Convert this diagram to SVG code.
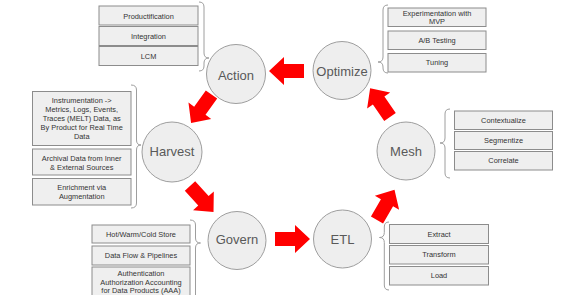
<svg xmlns="http://www.w3.org/2000/svg" xmlns:xlink="http://www.w3.org/1999/xlink" width="585" height="295" viewBox="0 0 585 295">
<style>
.c{fill:#eeeeee;stroke:#9e9e9e;stroke-width:1}
.ct{font-family:"Liberation Sans",Arial,sans-serif;font-size:13px;fill:#595959;text-anchor:middle}
.b{fill:#efefef;stroke:#8c8c8c;stroke-width:1}
.bt{font-family:"Liberation Sans",Arial,sans-serif;font-size:7.4px;fill:#333333;text-anchor:middle}
.br{fill:none;stroke:#9e9e9e;stroke-width:1}
.a{fill:#ff0000}
</style>
<defs>
<path id="arw" d="M0,-7 H20 V-14 L35,0 L20,14 V7 H0 Z"/>
</defs>
<rect width="585" height="295" fill="#ffffff"/>
<g id="connectors">
<use xlink:href="#arw" class="a" transform="translate(304,71) rotate(180)"/>
<use xlink:href="#arw" class="a" transform="translate(211.5,94.5) rotate(125.7)"/>
<use xlink:href="#arw" class="a" transform="translate(190,186) rotate(47.8)"/>
<use xlink:href="#arw" class="a" transform="translate(275,239)"/>
<use xlink:href="#arw" class="a" transform="translate(377,220) rotate(-60)"/>
<use xlink:href="#arw" class="a" transform="translate(390,117) rotate(-124.6)"/>
</g>
<g id="action">
<circle class="c" cx="236" cy="74" r="29.5"/>
<text class="ct" x="236" y="79.5">Action</text>
<path class="br" d="M199,2 Q204,2 204,7 L204,53 Q204,58 209,58 Q204,58 204,63 L204,66 Q204,71 199,71"/>
<rect class="b" x="99" y="6" width="99" height="19"/>
<text class="bt" x="148.5" y="18.6">Productification</text>
<rect class="b" x="99" y="26.5" width="99" height="19"/>
<text class="bt" x="148.5" y="38.6">Integration</text>
<rect class="b" x="99" y="46.5" width="99" height="19"/>
<text class="bt" x="148.5" y="58.6">LCM</text>
</g>
<g id="optimize">
<circle class="c" cx="342" cy="70.5" r="29"/>
<text class="ct" x="342" y="76">Optimize</text>
<path class="br" d="M388,5 Q383,5 383,10 L383,57 Q383,62 378,62 Q383,62 383,67 L383,68 Q383,73 388,73"/>
<rect class="b" x="388" y="8" width="98" height="18.5"/>
<text class="bt" x="437" y="16.2">Experimentation with</text>
<text class="bt" x="437" y="24.2">MVP</text>
<rect class="b" x="388" y="31" width="98" height="18.5"/>
<text class="bt" x="437" y="42.8">A/B Testing</text>
<rect class="b" x="388" y="53.5" width="98" height="18.5"/>
<text class="bt" x="437" y="65.2">Tuning</text>
</g>
<g id="harvest">
<circle class="c" cx="172" cy="152" r="30"/>
<text class="ct" x="172" y="156">Harvest</text>
<path class="br" d="M131,85 Q136.5,85 136.5,90 L136.5,140 Q136.5,145 141,145 Q136.5,145 136.5,150 L136.5,203 Q136.5,208 131,208"/>
<rect class="b" x="32.5" y="91.5" width="98.5" height="54"/>
<text class="bt" x="81.7" y="103.3">Instrumentation -&gt;</text>
<text class="bt" x="81.7" y="112.2">Metrics, Logs, Events,</text>
<text class="bt" x="81.7" y="121.1">Traces (MELT) Data, as</text>
<text class="bt" x="81.7" y="130">By Product for Real Time</text>
<text class="bt" x="81.7" y="139">Data</text>
<rect class="b" x="32.5" y="149" width="98.5" height="26"/>
<text class="bt" x="81.7" y="160.9">Archival Data from Inner</text>
<text class="bt" x="81.7" y="169.9">&amp; External Sources</text>
<rect class="b" x="32.5" y="178.5" width="98.5" height="26.5"/>
<text class="bt" x="81.7" y="189.9">Enrichment via</text>
<text class="bt" x="81.7" y="199.2">Augmentation</text>
</g>
<g id="mesh">
<circle class="c" cx="406" cy="151" r="29"/>
<text class="ct" x="406" y="156">Mesh</text>
<path class="br" d="M450,109 Q445,109 445,114 L445,138 Q445,143 440,143 Q445,143 445,148 L445,173 Q445,178 450,178"/>
<rect class="b" x="454.5" y="111" width="98" height="18.5"/>
<text class="bt" x="503.5" y="122.8">Contextualize</text>
<rect class="b" x="454.5" y="131.5" width="98" height="18"/>
<text class="bt" x="503.5" y="143.1">Segmentize</text>
<rect class="b" x="454.5" y="151.5" width="98" height="18.5"/>
<text class="bt" x="503.5" y="163.4">Correlate</text>
</g>
<g id="govern">
<circle class="c" cx="237" cy="240.5" r="29"/>
<text class="ct" x="237" y="244">Govern</text>
<path class="br" d="M190,220 Q195.5,220 195.5,225 L195.5,238 Q195.5,243 200.5,243 Q195.5,243 195.5,248 L195.5,300"/>
<rect class="b" x="92" y="225" width="98" height="18"/>
<text class="bt" x="141" y="236.6">Hot/Warm/Cold Store</text>
<rect class="b" x="92" y="246" width="98" height="19"/>
<text class="bt" x="141" y="258.1">Data Flow &amp; Pipelines</text>
<rect class="b" x="92" y="267" width="98" height="31"/>
<text class="bt" x="141" y="276.1">Authentication</text>
<text class="bt" x="141" y="284.6">Authorization Accounting</text>
<text class="bt" x="141" y="293.1">for Data Products (AAA)</text>
</g>
<g id="etl">
<circle class="c" cx="342.5" cy="239" r="29"/>
<text class="ct" x="342.5" y="244">ETL</text>
<path class="br" d="M389,222 Q384.3,222 384.3,227 L384.3,232.5 Q384.3,237.5 379.5,237.5 Q384.3,237.5 384.3,242.5 L384.3,285 Q384.3,290 389,290"/>
<rect class="b" x="389.5" y="224.5" width="99" height="19"/>
<text class="bt" x="439" y="236.6">Extract</text>
<rect class="b" x="389.5" y="245.5" width="99" height="18.5"/>
<text class="bt" x="439" y="257.4">Transform</text>
<rect class="b" x="389.5" y="266.5" width="99" height="18.5"/>
<text class="bt" x="439" y="278.4">Load</text>
</g>
</svg>
